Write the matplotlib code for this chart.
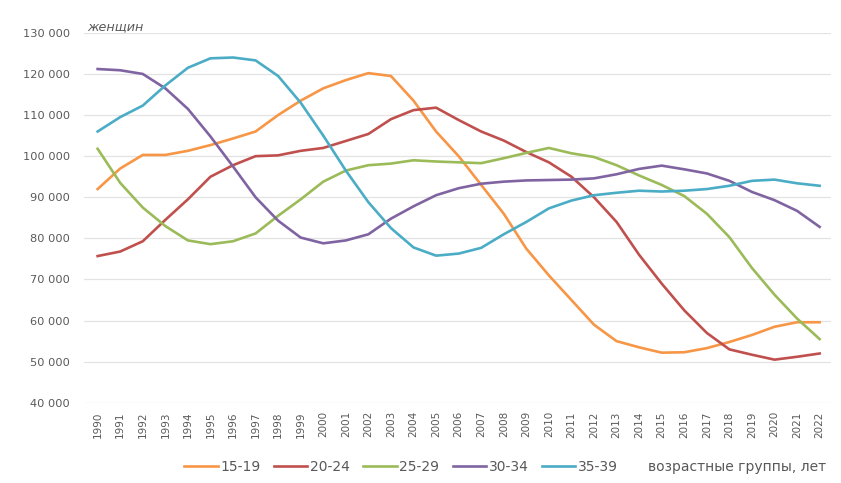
import matplotlib
matplotlib.use("Agg")
import matplotlib.pyplot as plt
from matplotlib.ticker import FuncFormatter

years = list(range(1990, 2023))

labels = ["15-19", "20-24", "25-29", "30-34", "35-39"]

g15_19 = [92000, 97000, 100300, 100300, 101300, 102700, 104300, 106000, 110000, 113500,
          116500, 118500, 120200, 119500, 113500, 106000, 100000, 93000, 86000, 77500,
          71000, 65000, 59000, 55000, 53500, 52200, 52300, 53300, 54800, 56500,
          58500, 59600, 59600]
g20_24 = [75700, 76800, 79300, 84500, 89500, 95000, 97800, 100000, 100200, 101300,
          102000, 103700, 105400, 109000, 111200, 111800, 108800, 106000, 103800, 101000,
          98500, 95000, 90000, 84000, 76000, 69000, 62500, 57000, 53000, 51700,
          50500, 51200, 52000]
g25_29 = [101800, 93500, 87500, 83000, 79500, 78600, 79300, 81200, 85500, 89500,
          93800, 96500, 97800, 98200, 99000, 98700, 98500, 98300, 99500, 100800,
          102000, 100700, 99800, 97800, 95300, 93000, 90300, 86000, 80300, 72800,
          66300, 60500, 55500]
g30_34 = [121200, 120900, 120000, 116500, 111500, 104800, 97500, 90000, 84300, 80200,
          78800, 79500, 81000, 84800, 87800, 90500, 92200, 93300, 93800, 94100,
          94200, 94300, 94600, 95600, 96900, 97700, 96800, 95800, 94000, 91300,
          89300, 86700, 82800]
g35_39 = [106000, 109500, 112300, 117200, 121500, 123800, 124000, 123300, 119500, 113000,
          105000, 96500, 88800, 82500, 77800, 75800, 76300, 77700, 81000, 84000,
          87300, 89200, 90500, 91100, 91600, 91400, 91600, 92000, 92800, 94000,
          94300, 93400, 92800]

series = [g15_19, g20_24, g25_29, g30_34, g35_39]
colors = ["#F79646", "#C0504D", "#9BBB59", "#8064A2", "#4BACC6"]

fig = plt.figure(figsize=(8.41, 4.83), dpi=100)
ax = fig.add_axes([0.100, 0.166, 0.888, 0.766])

for vals, lab, c in zip(series, labels, colors):
    ax.plot(years, vals, color=c, lw=1.9, label=lab, solid_joinstyle="round")

ax.set_xlim(1989.4, 2022.5)
ax.set_ylim(40000, 130000)
ax.set_yticks(range(40000, 130001, 10000))
ax.yaxis.set_major_formatter(FuncFormatter(lambda v, p: f"{int(v):,}".replace(",", " ")))
ax.set_xticks(years)
ax.set_xticklabels([str(y) for y in years], rotation=90, fontsize=7.5, color="#595959")
ax.tick_params(axis="y", labelsize=8.2, colors="#595959", length=0, pad=10)
ax.tick_params(axis="x", length=0, pad=6)
ax.grid(axis="y", color="#E3E3E3", lw=0.9)
for s in ax.spines.values():
    s.set_visible(False)
ax.set_axisbelow(True)

fig.text(0.104, 0.944, "женщин", fontsize=9.2, style="italic", color="#595959",
         ha="left", va="center")

leg = fig.legend(loc="center", bbox_to_anchor=(0.477, 0.034), ncol=5, frameon=False,
                 fontsize=10, handlelength=2.4, columnspacing=0.95, handletextpad=0.2,
                 borderpad=0, borderaxespad=0)
for t in leg.get_texts():
    t.set_color("#595959")
fig.text(0.770, 0.034, "возрастные группы, лет", fontsize=10, color="#595959",
         ha="left", va="center")

fig.savefig("out.png", dpi=100)
